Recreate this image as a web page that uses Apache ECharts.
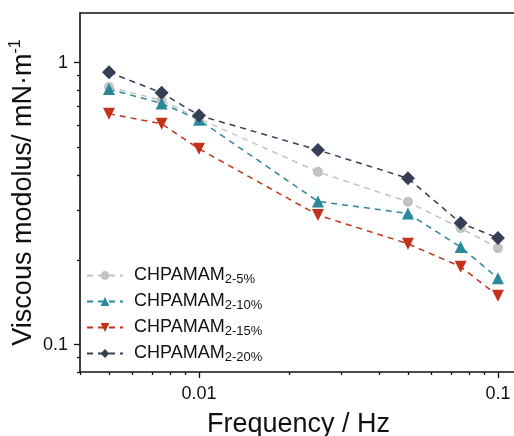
<!DOCTYPE html>
<html>
<head>
<meta charset="utf-8">
<script src="https://cdn.jsdelivr.net/npm/echarts@6/dist/echarts.min.js"></script>
<style>
    html, body { margin: 0; padding: 0; background: #fff; }
    #echarts-viscous { width: 514px; height: 436px; }
</style>
</head>
<body>
<div id="echarts-viscous"></div>
<script>
// 频率 (Hz)
var frequency = [0.005, 0.0075, 0.01, 0.025, 0.05, 0.075, 0.1];
// 各浓度的粘性模量 (mN/m)
var modulus5 = [0.82, 0.735, 0.633, 0.41, 0.321, 0.259, 0.22];
var modulus10 = [0.806, 0.717, 0.627, 0.322, 0.292, 0.222, 0.172];
var modulus15 = [0.659, 0.607, 0.495, 0.288, 0.228, 0.189, 0.149];
var modulus20 = [0.924, 0.782, 0.65, 0.49, 0.389, 0.27, 0.239];
var seriesNames = ['2-5%', '2-10%', '2-15%', '2-20%'];
// 刻度
var xMajorTicks = [0.01, 0.1];
var xMinorTicks = [0.004, 0.005, 0.006, 0.007, 0.008, 0.009, 0.02, 0.03, 0.04, 0.05, 0.06, 0.07, 0.08, 0.09];
var yMajorTicks = [0.1, 1];
var yMinorTicks = [0.08, 0.09, 0.2, 0.3, 0.4, 0.5, 0.6, 0.7, 0.8, 0.9];

var font = 'Liberation Sans, Arial, sans-serif';
// 右侧超出画布一点（原图右边被裁掉）
var xMin = 0.004, xMax = 0.1158;
var yMin = 0.08, yMax = 1.5;

function pairs(ys) {
    var out = [];
    for (var i = 0; i < frequency.length; i++) {
        out.push([frequency[i], ys[i]]);
    }
    return out;
}

function makeSeries(name, data, color, symbol, size, rotate) {
    return {
        name: name,
        type: 'line',
        data: pairs(data),
        symbol: symbol,
        symbolSize: size,
        symbolRotate: rotate || 0,
        itemStyle: { color: color },
        lineStyle: { color: color, width: 1.5, type: [6, 5] },
        z: 2
    };
}

function fmt(v) {
    return String(+Number(v).toPrecision(3));
}

var option = {
    animation: false,
    backgroundColor: '#fff',
    grid: { left: 80, top: 13, right: -3, bottom: 64, outerBoundsMode: 'none' },
    legend: {
        orient: 'vertical',
        left: 81,
        top: 256,
        itemWidth: 36,
        itemHeight: 11,
        itemGap: 1,
        formatter: function (name) {
            return '{a|CHPAMAM}{s|' + name + '}';
        },
        textStyle: {
            fontFamily: font,
            color: '#111',
            rich: {
                a: { fontSize: 18, fontFamily: font, color: '#111', lineHeight: 21, padding: [0, 0, 0, 6] },
                s: { fontSize: 13, fontFamily: font, color: '#111', verticalAlign: 'bottom', padding: [12, 0, 0, 0], lineHeight: 13 }
            }
        },
        data: seriesNames
    },
    // 盖住右侧被裁掉的边框
    graphic: [
        { type: 'rect', left: 509, top: 16, shape: { width: 6, height: 353 }, style: { fill: '#fff' }, z: 100, silent: true }
    ],
    xAxis: [
        {
            type: 'log',
            min: xMin,
            max: xMax,
            position: 'bottom',
            name: 'Frequency / Hz',
            nameLocation: 'middle',
            nameGap: 39,
            nameMoveOverlap: false,
            nameTextStyle: { fontFamily: font, fontSize: 27, color: '#111' },
            axisLine: { show: true, onZero: false, lineStyle: { color: '#111', width: 1.6 } },
            axisTick: { show: true, length: 6, customValues: xMajorTicks, lineStyle: { color: '#111', width: 1.3 } },
            axisLabel: { customValues: xMajorTicks, fontFamily: font, fontSize: 18, color: '#111', margin: 13, formatter: fmt },
            splitLine: { show: false }
        },
        {
            // 次刻度
            type: 'log',
            min: xMin,
            max: xMax,
            position: 'bottom',
            axisLine: { show: false, onZero: false },
            axisTick: { show: true, length: 3, customValues: xMinorTicks, lineStyle: { color: '#111', width: 1.3 } },
            axisLabel: { show: false },
            splitLine: { show: false }
        },
        {
            // 顶部边框
            type: 'log',
            min: xMin,
            max: xMax,
            position: 'top',
            axisLine: { show: true, onZero: false, lineStyle: { color: '#111', width: 1.6 } },
            axisTick: { show: false },
            axisLabel: { show: false },
            splitLine: { show: false }
        }
    ],
    yAxis: [
        {
            type: 'log',
            min: yMin,
            max: yMax,
            position: 'left',
            name: '{a|Viscous modolus/ mN·m}{p|-1}',
            nameLocation: 'middle',
            nameGap: 40,
            nameMoveOverlap: false,
            nameTextStyle: {
                fontFamily: font,
                color: '#111',
                rich: {
                    a: { fontSize: 27, fontFamily: font, color: '#111', lineHeight: 32 },
                    p: { fontSize: 16, fontFamily: font, color: '#111', verticalAlign: 'top', lineHeight: 16 }
                }
            },
            axisLine: { show: true, onZero: false, lineStyle: { color: '#111', width: 1.6 } },
            axisTick: { show: true, length: 6, customValues: yMajorTicks, lineStyle: { color: '#111', width: 1.3 } },
            axisLabel: { customValues: yMajorTicks, fontFamily: font, fontSize: 18, color: '#111', margin: 12, formatter: fmt },
            splitLine: { show: false }
        },
        {
            // 次刻度
            type: 'log',
            min: yMin,
            max: yMax,
            position: 'left',
            axisLine: { show: false, onZero: false },
            axisTick: { show: true, length: 3, customValues: yMinorTicks, lineStyle: { color: '#111', width: 1.3 } },
            axisLabel: { show: false },
            splitLine: { show: false }
        }
    ],
    series: [
        makeSeries(seriesNames[0], modulus5, '#c2c2c2', 'circle', 10),
        makeSeries(seriesNames[1], modulus10, '#2b889b', 'triangle', 12),
        makeSeries(seriesNames[2], modulus15, '#c2321c', 'triangle', 12, 180),
        makeSeries(seriesNames[3], modulus20, '#343f55', 'diamond', 14)
    ]
};

var chartViscous = echarts.init(document.getElementById('echarts-viscous'));
chartViscous.setOption(option);
window.onresize = function () {
    chartViscous.resize();
};
</script>
</body>
</html>
